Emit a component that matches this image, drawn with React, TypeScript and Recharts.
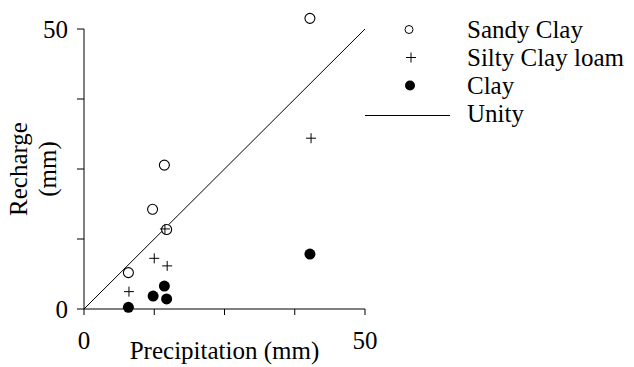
import { ReferenceLine, Scatter, ScatterChart, XAxis, YAxis } from "recharts";

// values
const precipSandy = [40.2, 14.3, 12.2, 14.7, 7.9];
const rechargeSandy = [51.9, 25.7, 17.8, 14.2, 6.5];
const precipSilty = [40.4, 14.4, 12.5, 14.8, 8.0];
const rechargeSilty = [30.5, 14.3, 9.05, 7.7, 3.1];
const precipClay = [40.2, 14.3, 12.3, 14.7, 7.9];
const rechargeClay = [9.8, 4.1, 2.3, 1.8, 0.3];
const unityEnds = [0, 50];
const axisTicks = [0, 12.5, 25, 37.5, 50];
const labelledTicks = [0, 50];
const seriesNames = ["Sandy Clay", "Silty Clay loam", "Clay", "Unity"];

const toPoints = (xs: number[], ys: number[]) =>
  xs.map((precip, i) => ({ precip, recharge: ys[i] }));

const sandyData = toPoints(precipSandy, rechargeSandy);
const siltyData = toPoints(precipSilty, rechargeSilty);
const clayData = toPoints(precipClay, rechargeClay);
const unityData = toPoints(unityEnds, unityEnds);

const FONT = "Liberation Serif";
const tickStyle = { fill: "#000", fontSize: 25, fontFamily: FONT };
const showTick = (v: number) => (labelledTicks.includes(v) ? String(v) : "");

const OpenCircle = (props: any) => (
  <circle cx={props.cx} cy={props.cy} r={5} fill="#fff" stroke="#000" strokeWidth={1.1} />
);
const Plus = (props: any) => (
  <path
    d={`M${props.cx - 5},${props.cy}H${props.cx + 5}M${props.cx},${props.cy - 5}V${props.cy + 5}`}
    stroke="#000"
    strokeWidth={1}
    fill="none"
  />
);
const Dot = (props: any) => <circle cx={props.cx} cy={props.cy} r={5.5} fill="#000" />;
const NoMark = () => <g />;

const XLabel = (props: any) => {
  const vb = props.viewBox || { x: 84, y: 309, width: 281 };
  return (
    <text x={vb.x + vb.width / 2} y={359} textAnchor="middle" fontSize={25} fontFamily={FONT} fill="#000">
      Precipitation (mm)
    </text>
  );
};

const YLabel = () => (
  <text transform="translate(0,169) rotate(-90)" textAnchor="middle" fontSize={25} fontFamily={FONT} fill="#000">
    <tspan x={0} y={27}>Recharge</tspan>
    <tspan x={0} y={56}>(mm)</tspan>
  </text>
);

// legend icons, each drawn around a row whose text baseline is at y=0
const legendIcons = [
  <circle key="a" cx={49} cy={-8} r={4} fill="#fff" stroke="#000" />,
  <path key="b" d="M46,-8H56M51,-13V-3" stroke="#000" fill="none" />,
  <circle key="c" cx={50} cy={-8} r={5} fill="#000" />,
  <line key="d" x1={5} y1={-6} x2={90} y2={-6} stroke="#000" />,
];

export default function App() {
  return (
    <div style={{ position: "absolute", left: 0, top: 0, width: 634, height: 367, background: "#fff" }}>
      <ScatterChart width={634} height={367} margin={{ top: 1, right: 269, bottom: 57, left: 83 }}>
        <XAxis
          type="number"
          dataKey="precip"
          domain={[0, 50]}
          ticks={axisTicks}
          interval={0}
          tickFormatter={showTick}
          height={1}
          tickSize={6}
          tickMargin={16}
          stroke="#000"
          tick={tickStyle}
          label={<XLabel />}
        />
        <YAxis
          type="number"
          dataKey="recharge"
          domain={[0, 55]}
          ticks={axisTicks}
          interval={0}
          tickFormatter={showTick}
          width={1}
          tickSize={7}
          tickMargin={9}
          axisLine={false}
          stroke="#000"
          tick={tickStyle}
          label={<YLabel />}
        />
        <ReferenceLine
          segment={[
            { x: axisTicks[0], y: axisTicks[0] },
            { x: axisTicks[0], y: axisTicks[axisTicks.length - 1] },
          ]}
          stroke="#000"
        />
        <Scatter
          name={seriesNames[3]}
          data={unityData}
          line={{ stroke: "#000", strokeWidth: 1 }}
          shape={NoMark}
          isAnimationActive={false}
        />
        <Scatter name={seriesNames[0]} data={sandyData} shape={OpenCircle} isAnimationActive={false} />
        <Scatter name={seriesNames[1]} data={siltyData} shape={Plus} isAnimationActive={false} />
        <Scatter name={seriesNames[2]} data={clayData} shape={Dot} isAnimationActive={false} />
      </ScatterChart>
      <svg
        width={274}
        height={140}
        style={{ position: "absolute", left: 360, top: 0, display: "block" }}
      >
        {seriesNames.map((name, i) => (
          <g key={name} transform={`translate(0,${37.5 + i * 28})`}>
            {legendIcons[i]}
            <text x={107} y={0} fontSize={25} fontFamily={FONT} fill="#000">
              {name}
            </text>
          </g>
        ))}
      </svg>
    </div>
  );
}
